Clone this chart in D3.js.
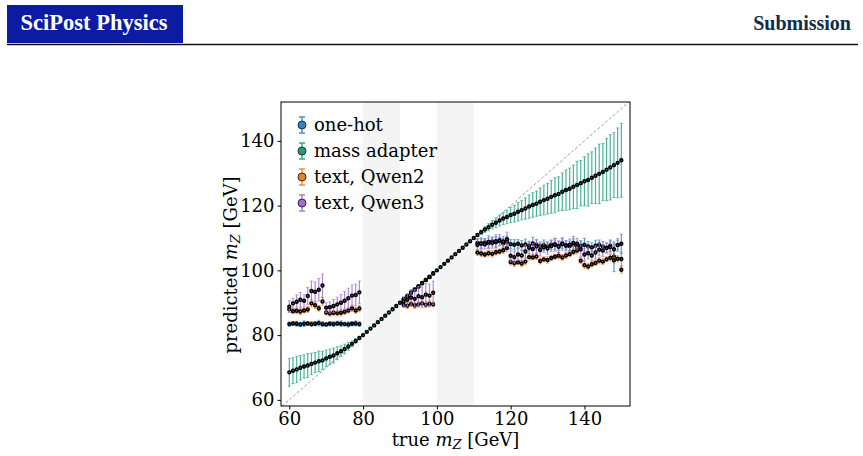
<!DOCTYPE html>
<html>
  <head>
    <meta charset="utf-8">
    <title></title>
    <script type="text/javascript" src="https://d3js.org/d3.v7.min.js"></script>
    <style media="screen">
      body { margin: 0; background: #fff; }
      svg text { font-family: "DejaVu Serif", serif; }
    </style>
  </head>
  <body>

    <script type="text/javascript">

      var w = 863;
      var h = 456;

      // x grid of true masses
      var xAll = d3.range(60, 151);
      var xLeft = d3.range(60, 80);
      var xMid = d3.range(91, 100);
      var xRight = d3.range(111, 151);

      var bands = [[80, 90], [100, 110]];
      var xTicks = [60, 80, 100, 120, 140];
      var yTicks = [60, 80, 100, 120, 140];

      // mass adapter, all masses
      var massVal = [68.5, 69.0, 69.4, 69.9, 70.3, 70.6, 71.1, 71.5, 71.9, 72.2, 72.8, 73.3, 73.7, 74.4, 75.0, 75.7, 76.5, 77.3, 78.2, 79.1,
        80.0, 81.0, 82.0, 83.0, 84.0, 85.0, 86.0, 87.0, 88.0, 89.0, 90.0, 91.0, 92.0, 93.0, 94.0, 95.0, 96.0, 97.0, 98.0, 99.0,
        100.0, 101.0, 102.0, 103.0, 104.0, 105.0, 106.0, 107.0, 108.0, 109.0, 110.0,
        110.9, 111.8, 112.6, 113.3, 114.1, 114.7, 115.4, 116.0, 116.5, 117.1, 117.5, 118.1, 118.6, 119.1, 119.7, 120.2, 120.6, 121.2, 121.7, 122.1,
        122.7, 123.2, 123.6, 124.3, 124.8, 125.2, 125.8, 126.4, 126.9, 127.5, 127.9, 128.6, 129.2, 129.8, 130.4, 131.1, 131.8, 132.5, 133.2, 134.0];
      var massErr = [4.3, 4.0, 4.1, 3.8, 3.6, 3.7, 3.3, 3.1, 3.2, 2.8, 2.6, 2.4, 2.3, 2.0, 1.7, 1.5, 1.2, 0.9, 0.7, 0.5,
        0.4, 0.3, 0.3, 0.3, 0.3, 0.3, 0.3, 0.3, 0.3, 0.3, 0.3, 0.3, 0.3, 0.3, 0.3, 0.3, 0.3, 0.3, 0.3, 0.3,
        0.3, 0.3, 0.3, 0.3, 0.3, 0.3, 0.3, 0.3, 0.3, 0.3, 0.4,
        0.5, 0.7, 0.9, 1.1, 1.3, 1.5, 1.7, 1.9, 2.1, 2.4, 2.6, 2.9, 3.0, 3.3, 3.6, 3.8, 3.9, 4.3, 4.6, 4.7,
        5.1, 5.4, 5.3, 5.8, 6.2, 6.4, 6.7, 7.3, 7.0, 7.6, 8.1, 8.0, 8.6, 9.2, 8.8, 9.6, 10.1, 10.0, 10.8, 11.4];

      // one-hot
      var oneHotLeft = [83.4, 83.6, 83.5, 83.3, 83.5, 83.6, 83.4, 83.5, 83.7, 83.4, 83.3, 83.5, 83.4, 83.6, 83.5, 83.4, 83.3, 83.5, 83.6, 83.4];
      var oneHotLeftErr = [0.7, 0.6, 0.8, 0.7, 0.9, 0.6, 0.8, 0.7, 0.9, 0.8, 0.6, 0.7, 0.8, 0.7, 0.9, 0.6, 0.8, 0.7, 0.8, 0.7];
      var oneHotMid = [91.1, 92.0, 93.2, 94.1, 95.0, 96.1, 97.0, 97.9, 99.1];
      var oneHotMidErr = [0.4, 0.4, 0.5, 0.4, 0.4, 0.5, 0.4, 0.4, 0.5];
      var oneHotRight = [108.5, 108.3, 108.6, 108.4, 108.9, 108.7, 109.0, 108.4, 108.8, 108.1, 107.9, 108.2, 107.7, 108.0, 107.6, 108.3, 107.9, 107.5, 107.8, 107.4,
        107.9, 108.1, 107.6, 108.4, 107.8, 107.5, 108.0, 107.2, 107.6, 107.9, 107.4, 107.1, 107.6, 107.9, 107.3, 107.0, 107.6, 104.2, 107.8, 108.2];
      var oneHotRightErr = [1.3, 1.5, 1.2, 1.6, 1.4, 1.7, 1.3, 1.5, 1.8, 1.4, 1.6, 1.3, 1.5, 1.7, 1.4, 1.9, 1.5, 1.3, 1.6, 1.4,
        1.5, 1.8, 1.4, 1.6, 1.3, 1.5, 1.7, 1.4, 1.6, 2.0, 1.5, 1.4, 1.7, 1.5, 1.6, 1.4, 1.8, 4.6, 1.5, 3.0];

      // text, Qwen2
      var qwen2Left = [88.0, 87.4, 87.5, 87.3, 87.6, 87.9, 89.8, 89.2, 88.3, 90.4, 87.0, 86.7, 86.9, 86.8, 86.9, 87.2, 87.6, 88.3, 87.6, 88.2];
      var qwen2LeftErr = [0.9, 0.8, 0.9, 1.0, 0.8, 0.9, 1.1, 1.0, 0.9, 1.2, 0.8, 0.9, 0.8, 0.9, 1.0, 0.9, 0.8, 1.0, 0.9, 1.0];
      var qwen2Mid = [89.3, 89.1, 89.6, 89.2, 89.5, 89.8, 89.4, 89.7, 89.5];
      var qwen2MidErr = [0.8, 0.9, 0.8, 1.0, 0.9, 0.8, 1.0, 0.9, 0.8];
      var qwen2Right = [105.5, 105.2, 104.9, 105.3, 105.1, 105.6, 105.8, 106.2, 106.9, 102.6, 102.2, 102.5, 102.1, 102.7, 104.1, 104.0, 104.3, 102.9, 103.4, 103.2,
        103.8, 104.2, 104.5, 104.0, 104.6, 105.0, 105.7, 106.1, 103.0, 101.6, 101.2, 101.9, 102.3, 103.0, 102.7, 103.4, 103.9, 103.1, 103.6, 100.2];
      var qwen2RightErr = [0.9, 1.0, 0.8, 0.9, 1.0, 0.9, 0.8, 1.0, 1.1, 0.9, 1.0, 0.8, 0.9, 1.0, 0.9, 0.8, 1.0, 0.9, 0.8, 1.0,
        0.9, 0.8, 1.0, 0.9, 1.0, 0.8, 0.9, 1.0, 0.9, 1.1, 1.0, 0.9, 0.8, 1.0, 0.9, 0.8, 1.0, 0.9, 1.0, 1.1];

      // text, Qwen3
      var qwen3Left = [88.8, 89.8, 90.3, 90.9, 90.6, 92.1, 93.6, 93.4, 94.0, 95.3, 88.5, 88.6, 89.0, 89.5, 90.0, 90.6, 91.4, 92.2, 92.4, 93.2];
      var qwen3LeftErr = [1.8, 1.6, 2.1, 2.3, 1.9, 2.6, 3.1, 3.0, 3.5, 3.6, 1.5, 1.7, 2.0, 2.2, 2.5, 2.8, 3.1, 3.3, 3.4, 3.5];
      var qwen3Mid = [90.4, 90.9, 91.6, 91.2, 92.0, 91.7, 92.5, 92.2, 93.1];
      var qwen3MidErr = [1.5, 2.0, 2.5, 2.8, 3.0, 3.2, 3.4, 3.5, 3.6];
      var qwen3Right = [107.9, 108.3, 108.1, 108.8, 108.5, 109.0, 109.3, 108.9, 109.6, 104.5, 104.1, 104.9, 104.6, 105.8, 107.0, 106.6, 107.4, 106.3, 107.1, 106.8,
        107.5, 107.9, 107.3, 108.1, 107.6, 107.9, 108.5, 108.2, 106.5, 104.9, 105.3, 104.6, 105.5, 106.4, 106.1, 106.9, 107.2, 106.5, 107.8, 103.5];
      var qwen3RightErr = [1.6, 1.8, 1.5, 1.9, 1.7, 2.0, 1.8, 1.6, 2.2, 1.8, 1.7, 1.9, 1.6, 2.0, 1.8, 1.7, 2.1, 1.9, 1.6, 1.8,
        1.7, 2.0, 1.8, 1.9, 1.6, 1.8, 2.0, 1.7, 2.3, 1.9, 1.8, 1.7, 2.0, 1.9, 1.8, 1.6, 1.9, 1.8, 2.0, 2.2];

      var names = ['one-hot', 'mass adapter', 'text, Qwen2', 'text, Qwen3'];
      var colors = ['#2a86c8', '#1ba07a', '#ec7f1e', '#9a6dcc'];

      function pack(xs, ys, es) {
        var out = [];
        for (var i = 0; i < xs.length; i++) {
          out.push({x: xs[i], y: ys[i], e: es[i]});
        }
        return out;
      }

      var series = [
        pack(xLeft.concat(xMid, xRight), oneHotLeft.concat(oneHotMid, oneHotRight), oneHotLeftErr.concat(oneHotMidErr, oneHotRightErr)),
        pack(xAll, massVal, massErr),
        pack(xLeft.concat(xMid, xRight), qwen2Left.concat(qwen2Mid, qwen2Right), qwen2LeftErr.concat(qwen2MidErr, qwen2RightErr)),
        pack(xLeft.concat(xMid, xRight), qwen3Left.concat(qwen3Mid, qwen3Right), qwen3LeftErr.concat(qwen3MidErr, qwen3RightErr))
      ];

      var pL = 281, pR = 630, pT = 102, pB = 406;

      var xscale = d3.scaleLinear()
        .domain([57.75, 152.35])
        .range([pL, pR]);

      var yscale = d3.scaleLinear()
        .domain([58.1, 152])
        .range([pB, pT]);

      var svg = d3.select('body')
        .append('svg')
        .attr('width', w)
        .attr('height', h);

      // header
      svg.append('rect')
        .attr('x', 7).attr('y', 5)
        .attr('width', 176).attr('height', 38)
        .attr('fill', '#0b1ca3');
      svg.append('text')
        .attr('x', 94).attr('y', 30)
        .attr('text-anchor', 'middle')
        .style('font-family', '"Liberation Serif", serif')
        .style('font-weight', 'bold')
        .style('font-size', '22.5px')
        .attr('fill', '#fff')
        .text('SciPost Physics');
      svg.append('text')
        .attr('x', 851).attr('y', 30)
        .attr('text-anchor', 'end')
        .style('font-family', '"Liberation Serif", serif')
        .style('font-weight', 'bold')
        .style('font-size', '20px')
        .attr('fill', '#0f2c4c')
        .text('Submission');
      svg.append('line')
        .attr('x1', 7).attr('x2', 858)
        .attr('y1', 44.5).attr('y2', 44.5)
        .attr('stroke', '#111')
        .attr('stroke-width', 1.3);

      var plot = svg.append('g');

      plot.append('clipPath').attr('id', 'clip')
        .append('rect')
        .attr('x', pL).attr('y', pT)
        .attr('width', pR - pL).attr('height', pB - pT);

      // shaded gaps
      plot.selectAll('.band')
        .data(bands)
        .enter()
        .append('rect')
        .attr('class', 'band')
        .attr('x', function(d){ return xscale(d[0]); })
        .attr('width', function(d){ return xscale(d[1]) - xscale(d[0]); })
        .attr('y', pT)
        .attr('height', pB - pT)
        .attr('fill', '#f4f4f4');

      // diagonal
      var dlo = 57, dhi = 153;
      plot.append('line')
        .attr('clip-path', 'url(#clip)')
        .attr('x1', xscale(dlo)).attr('y1', yscale(dlo))
        .attr('x2', xscale(dhi)).attr('y2', yscale(dhi))
        .attr('stroke', '#888')
        .attr('stroke-width', 0.8)
        .attr('stroke-dasharray', '3,2');

      series.forEach(function(s, k){
        var g = plot.append('g');
        var col = colors[k];

        g.selectAll('line.bar')
          .data(s)
          .enter()
          .append('line')
          .attr('class', 'bar')
          .attr('x1', function(d){ return xscale(d.x); })
          .attr('x2', function(d){ return xscale(d.x); })
          .attr('y1', function(d){ return yscale(d.y - d.e); })
          .attr('y2', function(d){ return yscale(d.y + d.e); })
          .attr('stroke', col)
          .attr('stroke-opacity', 0.8)
          .attr('stroke-width', 1.2);

        [-1, 1].forEach(function(sg){
          g.selectAll('line.cap' + (sg > 0 ? 'a' : 'b'))
            .data(s)
            .enter()
            .append('line')
            .attr('class', 'cap' + (sg > 0 ? 'a' : 'b'))
            .attr('x1', function(d){ return xscale(d.x) - 1.6; })
            .attr('x2', function(d){ return xscale(d.x) + 1.6; })
            .attr('y1', function(d){ return yscale(d.y + sg * d.e); })
            .attr('y2', function(d){ return yscale(d.y + sg * d.e); })
            .attr('stroke', col)
            .attr('stroke-opacity', 0.6)
            .attr('stroke-width', 1);
        });

        g.selectAll('circle')
          .data(s)
          .enter()
          .append('circle')
          .attr('cx', function(d){ return xscale(d.x); })
          .attr('cy', function(d){ return yscale(d.y); })
          .attr('r', 1.4)
          .attr('fill', col)
          .attr('stroke', '#000')
          .attr('stroke-width', 1.6);
      });

      // frame
      plot.append('rect')
        .attr('x', pL).attr('y', pT)
        .attr('width', pR - pL).attr('height', pB - pT)
        .attr('fill', 'none')
        .attr('stroke', '#000')
        .attr('stroke-width', 1);

      var xAxis = d3.axisBottom(xscale)
        .tickValues(xTicks)
        .tickSizeOuter(0)
        .tickSize(3.5)
        .tickPadding(3);

      var yAxis = d3.axisLeft(yscale)
        .tickValues(yTicks)
        .tickSizeOuter(0)
        .tickSize(3.5)
        .tickPadding(3);

      var gx = svg.append('g')
        .attr('class', 'x axis')
        .attr('transform', 'translate(0,' + pB + ')')
        .call(xAxis);
      gx.select('.domain').remove();
      gx.selectAll('text')
        .style('font-family', '"DejaVu Serif", serif')
        .style('font-size', '18px')
        .attr('fill', '#000');

      var gy = svg.append('g')
        .attr('class', 'y axis')
        .attr('transform', 'translate(' + pL + ',0)')
        .call(yAxis);
      gy.select('.domain').remove();
      gy.selectAll('text')
        .style('font-family', '"DejaVu Serif", serif')
        .style('font-size', '18px')
        .attr('fill', '#000');

      // axis labels
      var xl = svg.append('text')
        .attr('x', (pL + pR) / 2)
        .attr('y', 446)
        .attr('text-anchor', 'middle')
        .style('font-size', '18px');
      xl.append('tspan').text('true ');
      xl.append('tspan').style('font-style', 'italic').text('m');
      xl.append('tspan').style('font-style', 'italic').style('font-size', '13px').attr('dy', 3).text('Z');
      xl.append('tspan').attr('dy', -3).text(' [GeV]');

      var yl = svg.append('text')
        .attr('transform', 'translate(237,' + ((pT + pB) / 2 + 11) + ')rotate(-90)')
        .attr('text-anchor', 'middle')
        .style('font-size', '18px');
      yl.append('tspan').text('predicted ');
      yl.append('tspan').style('font-style', 'italic').text('m');
      yl.append('tspan').style('font-style', 'italic').style('font-size', '13px').attr('dy', 3).text('Z');
      yl.append('tspan').attr('dy', -3).text(' [GeV]');

      // legend
      var leg = svg.append('g')
        .attr('transform', 'translate(302,125)');
      names.forEach(function(n, i){
        var row = leg.append('g').attr('transform', 'translate(0,' + (i * 26) + ')');
        row.append('line')
          .attr('x1', 0).attr('x2', 0).attr('y1', -8).attr('y2', 8)
          .attr('stroke', colors[i]).attr('stroke-width', 1.3);
        row.append('line')
          .attr('x1', -3).attr('x2', 3).attr('y1', -8).attr('y2', -8)
          .attr('stroke', colors[i]).attr('stroke-width', 1.3);
        row.append('line')
          .attr('x1', -3).attr('x2', 3).attr('y1', 8).attr('y2', 8)
          .attr('stroke', colors[i]).attr('stroke-width', 1.3);
        row.append('circle')
          .attr('r', 4)
          .attr('fill', colors[i])
          .attr('stroke', '#222')
          .attr('stroke-width', 0.9);
        row.append('text')
          .attr('x', 12)
          .attr('y', 0)
          .attr('dy', '0.35em')
          .style('font-size', '18px')
          .text(n);
      });

    </script>

  </body>
</html>
